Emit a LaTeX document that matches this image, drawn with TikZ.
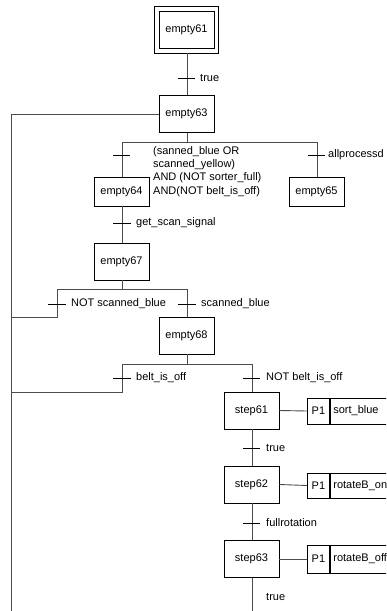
\documentclass[tikz,border=0pt]{standalone}
\usepackage{fontspec}
\setmainfont{Liberation Sans}
\begin{document}
\begin{tikzpicture}[x=1pt,y=-1pt,
  every node/.style={font=\fontsize{11}{13.4}\selectfont, inner sep=0pt},
  stepbox/.style={draw=black, line width=0.9pt, minimum width=55pt, minimum height=37pt},
  smallbox/.style={draw=black, line width=0.9pt, minimum width=55pt, minimum height=29pt},
  wire/.style={draw=black!70, line width=0.9pt},
  tick/.style={draw=black, line width=0.9pt},
  lbl/.style={anchor=west},
  actbox/.style={draw=black, line width=0.9pt, anchor=west, minimum height=26pt},
]
\useasboundingbox (0,0) rectangle (386,611);
\clip (0,0) rectangle (386,611);
% initial step
\node[draw=black, line width=0.9pt, minimum width=64pt, minimum height=47pt] (e61o) at (186.5,29.5) {};
\node[stepbox] (e61) at (186.5,29.5) {empty61};
\node[stepbox] (e63) at (186.5,114) {empty63};
\node[smallbox] (e64) at (121.5,191.5) {empty64};
\node[smallbox] (e65) at (316.5,191.5) {empty65};
\node[stepbox] (e67) at (121.5,261.5) {empty67};
\node[stepbox] (e68) at (186.5,335.5) {empty68};
\node[stepbox] (s61) at (251.5,410.5) {step61};
\node[stepbox] (s62) at (251.5,484.5) {step62};
\node[stepbox] (s63) at (251.5,559) {step63};
% coordinates
\coordinate (d1) at (187,142);
\coordinate (d1l) at (122,142);
\coordinate (d1r) at (317,142);
\coordinate (loopTop) at (11,114);
\coordinate (loopBot) at (11,611);
\coordinate (d2) at (122,289);
\coordinate (d2l) at (57,289);
\coordinate (d2r) at (187,289);
\coordinate (d2lb) at (57,317);
\coordinate (j2) at (11,317);
\coordinate (d3) at (187,364);
\coordinate (d3l) at (122,364);
\coordinate (d3r) at (252,364);
\coordinate (d3lb) at (122,392);
\coordinate (j3) at (11,392);
\coordinate (endB) at (252,611);
% wires
\draw[wire] (e61o.south -| d1) -- (e63.north -| d1);
\draw[wire] (e63.west) -- (loopTop) -- (loopBot);
\draw[wire] (e63.south -| d1) -- (d1);
\draw[wire] (d1l) -- (d1r);
\draw[wire] (d1l) -- (e64.north -| d1l);
\draw[wire] (d1r) -- (e65.north -| d1r);
\draw[wire] (e64.south -| d1l) -- (e67.north -| d1l);
\draw[wire] (e67.south -| d2) -- (d2);
\draw[wire] (d2l) -- (d2r);
\draw[wire] (d2l) -- (d2lb) -- (j2);
\draw[wire] (d2r) -- (e68.north -| d2r);
\draw[wire] (e68.south -| d3) -- (d3);
\draw[wire] (d3l) -- (d3r);
\draw[wire] (d3l) -- (d3lb) -- (j3);
\draw[wire] (d3r) -- (s61.north -| d3r);
\draw[wire] (s61.south -| d3r) -- (s62.north -| d3r);
\draw[wire] (s62.south -| d3r) -- (s63.north -| d3r);
\draw[wire] (s63.south -| d3r) -- (endB);
% ticks
\draw[tick] (178,78) -- (195,78);
\draw[tick] (113,155) -- (130,155);
\draw[tick] (308,155) -- (325,155);
\draw[tick] (113,223) -- (131,223);
\draw[tick] (48,304) -- (66,304);
\draw[tick] (178,304) -- (196,304);
\draw[tick] (113,378) -- (131,378);
\draw[tick] (243,378) -- (260,378);
\draw[tick] (243,448) -- (260,448);
\draw[tick] (243,523) -- (260,523);
% transition labels
\node[lbl] (t1) at (200,78) {true};
\node[lbl, align=left, anchor=north west] (t2) at (153,146) {(sanned\_blue OR\\scanned\_yellow)\\AND (NOT sorter\_full)\\AND(NOT belt\_is\_off)};
\node[lbl] (t3) at (328,155) {allprocessd};
\node[lbl] (t4) at (136,223) {get\_scan\_signal};
\node[lbl] (t5) at (71,304) {NOT scanned\_blue};
\node[lbl] (t6) at (201,304) {scanned\_blue};
\node[lbl] (t7) at (136,378) {belt\_is\_off};
\node[lbl] (t8) at (266,378) {NOT belt\_is\_off};
\node[lbl] (t9) at (266,448) {true};
\node[lbl] (t10) at (266,523) {fullrotation};
\node[lbl] (t11) at (266,597) {true};
% actions
\node[actbox, minimum width=22pt] (p1) at (307,411) {P1};
\node[actbox, minimum width=80pt, text width=74pt, align=left, inner xsep=3pt] (a1) at (p1.east) {sort\_blue};
\node[actbox, minimum width=22pt, minimum height=25pt] (p2) at (307,485.5) {P1};
\node[actbox, minimum width=80pt, minimum height=25pt, text width=74pt, align=left, inner xsep=3pt] (a2) at (p2.east) {rotateB\_on};
\node[actbox, minimum width=22pt, minimum height=28pt] (p3) at (307,559) {P1};
\node[actbox, minimum width=80pt, minimum height=28pt, text width=74pt, align=left, inner xsep=3pt] (a3) at (p3.east) {rotateB\_off};
\draw[wire] (s61.east) -- (p1.west);
\draw[wire] (s62.east) -- (p2.west);
\draw[wire] (s63.east) -- (p3.west);
\end{tikzpicture}
\end{document}
